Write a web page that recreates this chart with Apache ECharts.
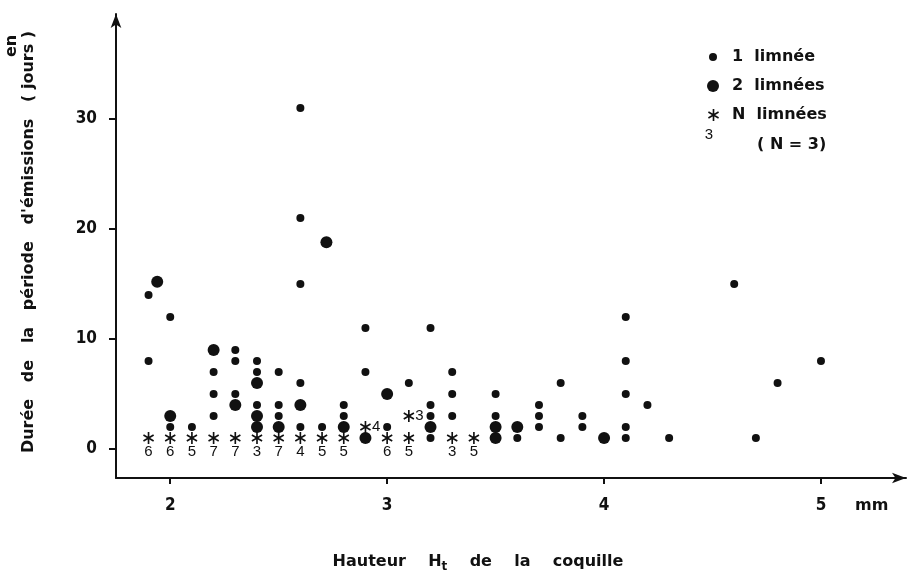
<!DOCTYPE html>
<html>
<head>
<meta charset="utf-8">
<script src="https://cdn.jsdelivr.net/npm/echarts@6/dist/echarts.min.js"></script>
<style>
  html, body { margin: 0; padding: 0; background: #fff; }
  #chart { width: 914px; height: 575px; }
</style>
</head>
<body>
<div id="chart"></div>
<script>
// ticks
var xTicks = [2, 3, 4, 5];
var yTicks = [0, 10, 20, 30];

// 1 limnée (small dots): [hauteur mm, durée jours]
var oneLimnee = [
  [1.9, 14], [1.9, 8], [2.0, 12], [2.0, 2], [2.1, 2],
  [2.2, 7], [2.2, 5], [2.2, 3], [2.3, 9], [2.3, 8], [2.3, 5],
  [2.4, 8], [2.4, 7], [2.4, 4], [2.5, 7], [2.5, 4], [2.5, 3],
  [2.6, 31], [2.6, 21], [2.6, 15], [2.6, 6], [2.6, 2], [2.7, 2],
  [2.8, 4], [2.8, 3], [2.9, 11], [2.9, 7], [3.0, 2], [3.1, 6],
  [3.2, 11], [3.2, 4], [3.2, 3], [3.2, 1], [3.3, 7], [3.3, 5], [3.3, 3],
  [3.5, 5], [3.5, 3], [3.6, 1], [3.7, 4], [3.7, 3], [3.7, 2],
  [3.8, 6], [3.8, 1], [3.9, 3], [3.9, 2],
  [4.1, 12], [4.1, 8], [4.1, 5], [4.1, 2], [4.1, 1], [4.2, 4], [4.3, 1],
  [4.6, 15], [4.7, 1], [4.8, 6], [5.0, 8]
];

// 2 limnées (big dots)
var twoLimnees = [
  [1.94, 15.2], [2.0, 3], [2.2, 9], [2.3, 4], [2.4, 6], [2.4, 3], [2.4, 2],
  [2.5, 2], [2.6, 4], [2.72, 18.8], [2.8, 2], [2.9, 1], [3.0, 5],
  [3.2, 2], [3.5, 2], [3.5, 1], [3.6, 2], [4.0, 1]
];

// N limnées (asterisks), N written underneath
var starX = [1.9, 2.0, 2.1, 2.2, 2.3, 2.4, 2.5, 2.6, 2.7, 2.8, 3.0, 3.1, 3.3, 3.4];
var starY = [1, 1, 1, 1, 1, 1, 1, 1, 1, 1, 1, 1, 1, 1];
var starN = [6, 6, 5, 7, 7, 3, 7, 4, 5, 5, 6, 5, 3, 5];

// N limnées, N written to the right
var sideX = [2.9, 3.1];
var sideY = [2, 3];
var sideN = [4, 3];

var asterisk = 'path://M-1.4,-10L1.4,-10L1.4,10L-1.4,10Z' +
  'M7.96,6.21L-9.36,-3.79L-7.96,-6.21L9.36,3.79Z' +
  'M9.36,-3.79L-7.96,6.21L-9.36,3.79L7.96,-6.21Z';

var ink = '#111';
var textFont = 'DejaVu Sans';
var numFont = "'Liberation Sans Narrow', 'DejaVu Sans Condensed', sans-serif";

var starData = starX.map(function (x, i) { return [x, starY[i], starN[i]]; });
var sideData = sideX.map(function (x, i) { return [x, sideY[i], sideN[i]]; });

var chart = echarts.init(document.getElementById('chart'));

var legendText = { fontSize: 16, fontWeight: 'bold', color: ink, fontFamily: textFont };

var option = {
  backgroundColor: '#fff',
  animation: false,
  grid: { left: 116, right: 8, top: 14, bottom: 97 },
  xAxis: {
    type: 'value',
    min: 1.75,
    max: 5.392,
    splitLine: { show: false },
    axisLine: { onZero: false, lineStyle: { color: ink, width: 2 }, symbol: ['none', 'arrow'], symbolSize: [8, 14] },
    axisTick: { customValues: xTicks, length: 6, lineStyle: { color: ink, width: 2 } },
    axisLabel: { customValues: xTicks, margin: 19, fontSize: 17, fontWeight: 'bold', color: ink, fontFamily: numFont }
  },
  yAxis: {
    type: 'value',
    min: -2.64,
    max: 39.55,
    splitLine: { show: false },
    axisLine: { onZero: false, lineStyle: { color: ink, width: 2 }, symbol: ['none', 'arrow'], symbolSize: [8, 14] },
    axisTick: { customValues: yTicks, length: 7, lineStyle: { color: ink, width: 2 } },
    axisLabel: { customValues: yTicks, margin: 19, fontSize: 17, fontWeight: 'bold', color: ink, fontFamily: numFont }
  },
  legend: [
    {
      data: ['1 limnée'], left: 704, top: 44, icon: 'circle', itemWidth: 8, itemHeight: 8,
      itemStyle: { opacity: 1 },
      textStyle: Object.assign({ padding: [0, 0, 0, 10] }, legendText),
      formatter: function () { return '1  limnée'; }
    },
    {
      data: ['2 limnées'], left: 702, top: 73, icon: 'circle', itemWidth: 12, itemHeight: 12,
      itemStyle: { opacity: 1 },
      textStyle: Object.assign({ padding: [0, 0, 0, 8] }, legendText),
      formatter: function () { return '2  limnées'; }
    },
    {
      data: ['N limnées'], left: 703, top: 102, icon: asterisk, itemWidth: 11, itemHeight: 12,
      itemStyle: { opacity: 1 },
      textStyle: Object.assign({ padding: [0, 0, 0, 8] }, legendText),
      formatter: function () { return 'N  limnées'; }
    }
  ],
  graphic: [
    { type: 'text', x: 709, y: 135, style: { text: '3', align: 'center', verticalAlign: 'middle', fontSize: 15, fill: ink, fontFamily: 'Liberation Sans' } },
    { type: 'text', x: 757, y: 145, style: { text: '( N = 3)', verticalAlign: 'middle', fontSize: 16, fontWeight: 'bold', fill: ink, fontFamily: textFont } },
    { type: 'text', x: 855, y: 506, style: { text: 'mm', verticalAlign: 'middle', fontSize: 16, fontWeight: 'bold', fill: ink, fontFamily: textFont } },
    {
      type: 'text', x: 478, y: 562,
      style: {
        text: '{a|Hauteur    H}{s|t}{a|    de    la    coquille}',
        align: 'center', verticalAlign: 'middle',
        rich: {
          a: { fontSize: 16, fontWeight: 'bold', fill: ink, fontFamily: textFont },
          s: { fontSize: 12, fontWeight: 'bold', fill: ink, fontFamily: textFont, padding: [9, 0, 0, 0] }
        }
      }
    },
    {
      type: 'text', x: 29, y: 242, rotation: Math.PI / 2,
      style: {
        text: "Durée   de   la   période   d'émissions   ( jours )",
        align: 'center', verticalAlign: 'middle',
        fontSize: 16, fontWeight: 'bold', fill: ink, fontFamily: textFont
      }
    },
    {
      type: 'text', x: 12, y: 46, rotation: Math.PI / 2,
      style: { text: 'en', align: 'center', verticalAlign: 'middle', fontSize: 16, fontWeight: 'bold', fill: ink, fontFamily: textFont }
    }
  ],
  series: [
    {
      name: '1 limnée', type: 'scatter', symbol: 'circle', symbolSize: 8,
      itemStyle: { color: ink, opacity: 1 }, data: oneLimnee
    },
    {
      name: '2 limnées', type: 'scatter', symbol: 'circle', symbolSize: 12,
      itemStyle: { color: ink, opacity: 1 }, data: twoLimnees
    },
    {
      name: 'N limnées', type: 'scatter', symbol: asterisk, symbolSize: [11, 12],
      itemStyle: { color: ink, opacity: 1 }, data: starData,
      label: {
        show: true, position: 'bottom', distance: 0, color: ink,
        fontSize: 15, fontFamily: 'Liberation Sans',
        formatter: function (p) { return String(p.value[2]); }
      }
    },
    {
      name: 'N limnées', type: 'scatter', symbol: asterisk, symbolSize: [11, 12],
      itemStyle: { color: ink, opacity: 1 }, data: sideData,
      label: {
        show: true, position: 'right', distance: 1, color: ink,
        fontSize: 15, fontFamily: 'Liberation Sans',
        formatter: function (p) { return String(p.value[2]); }
      }
    }
  ]
};

chart.setOption(option);
</script>
</body>
</html>
